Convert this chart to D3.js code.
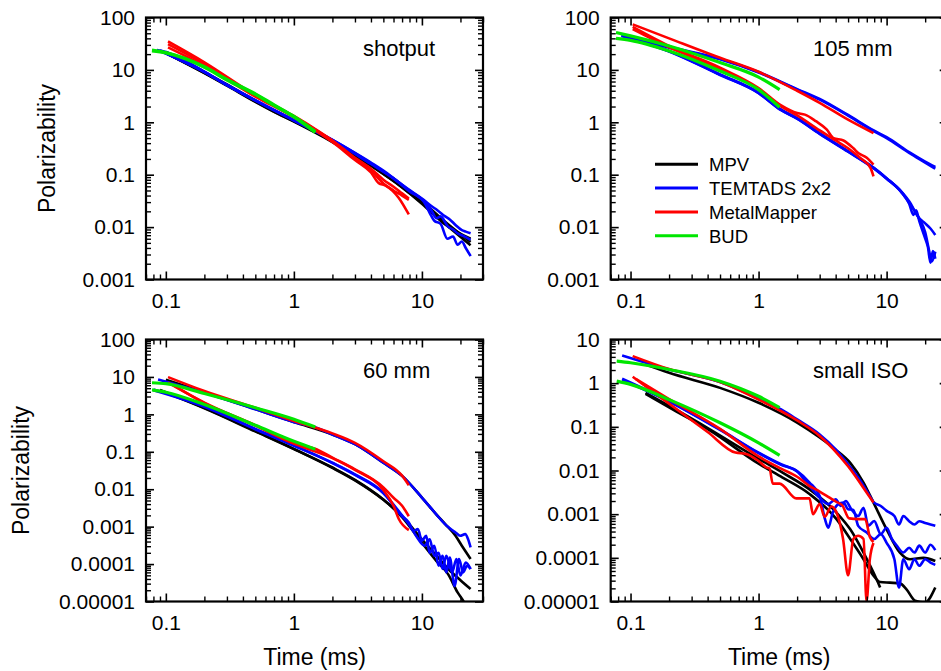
<!DOCTYPE html>
<html>
<head>
<meta charset="utf-8">
<script src="https://cdnjs.cloudflare.com/ajax/libs/d3/7.8.5/d3.min.js"></script>
<style>
  body { margin: 0; background: #fff; }
  svg { display: block; font-family: "Liberation Sans", Arial, sans-serif; }
</style>
</head>
<body>
<svg width="941" height="671"></svg>
<script>
// ---- data: each curve is a list of [time (ms), polarizability] ----

// shotput
var shotputMPV = [
  [[0.1,21],[0.2,8.8],[0.3,5.1],[0.5,2.5],[0.7,1.6],[1,1.05],[2,0.43],[4,0.15],[7,0.058],[10,0.029],[15,0.0118],[24,0.0045]],
  [[0.1,22],[0.2,9.1],[0.3,5.3],[0.5,2.6],[0.7,1.65],[1,1.09],[2,0.45],[4,0.155],[7,0.062],[10,0.031],[15,0.013],[24,0.0052]],
  [[0.1,21],[0.2,8.7],[0.3,5.0],[0.5,2.45],[0.7,1.58],[1,1.03],[2,0.42],[4,0.148],[7,0.057],[10,0.028],[15,0.0115],[24,0.006]]
];
var shotputTEMTADS = [
  [[0.085,24],[0.1,22],[0.2,9.3],[0.3,5.2],[0.5,2.65],[1,1.1],[2,0.46],[3,0.26],[4,0.17],[5,0.12],[6.6,0.072],[8.4,0.047],[10,0.035],[12,0.0247],[13.2,0.021],[15.2,0.016],[16.5,0.014],[18.3,0.011],[20.5,0.0088],[22,0.0082],[24,0.0076]],
  [[0.09,23],[0.2,9.1],[0.3,5.1],[0.5,2.6],[1,1.08],[2,0.45],[4,0.16],[6,0.085],[8,0.05],[10,0.034],[11,0.028],[12,0.0198],[13,0.0148],[14,0.016],[16,0.0102],[17.5,0.009],[19,0.0076],[21,0.0068],[24,0.0057]],
  [[0.09,23.5],[0.2,9.2],[0.3,5.15],[0.5,2.62],[1,1.09],[2,0.46],[4,0.165],[6,0.085],[8,0.048],[10.4,0.03],[11.8,0.0165],[12.5,0.0132],[14,0.0115],[15.8,0.006],[17.5,0.0066],[19,0.0046],[20.5,0.0053],[22,0.004],[24,0.0028]]
];
var shotputMM = [
  [[0.104,35],[0.2,14],[0.5,3.3],[1,1.32],[1.5,0.72],[2,0.45],[3,0.21],[4,0.13],[5,0.08],[6,0.059],[7,0.044],[7.9,0.035]],
  [[0.104,31],[0.2,13],[0.5,3.2],[1,1.28],[1.5,0.7],[2,0.44],[3,0.2],[4,0.12],[5,0.068],[6,0.05],[7,0.04],[7.9,0.033]],
  [[0.104,27],[0.2,12],[0.5,3.1],[1,1.25],[1.5,0.68],[2,0.42],[3,0.19],[4,0.11],[4.6,0.069],[5.2,0.062],[6.6,0.036],[7.9,0.0174]]
];
var shotputBUD = [
  [[0.078,24],[0.1,21.5],[0.2,11.5],[0.3,6.6],[0.5,3.5],[0.7,2.15],[1,1.3],[1.47,0.67]],
  [[0.078,23],[0.1,21],[0.2,11.2],[0.3,6.4],[0.5,3.4],[0.7,2.1],[1,1.27],[1.47,0.64]]
];

// 105 mm (no MPV data)
var mm105MPV = [];
var mm105TEMTADS = [
  [[0.085,45],[0.1,41],[0.2,26.6],[0.5,15.9],[1,8.9],[2,4.2],[3,2.7],[5,1.34],[8,0.67],[10,0.5],[15,0.26],[20,0.17],[24,0.13]],
  [[0.085,48],[0.1,43],[0.2,27.5],[0.5,16.3],[1,9.1],[2,4.3],[3,2.8],[5,1.38],[8,0.69],[10,0.52],[15,0.27],[20,0.178],[24,0.14]],
  [[0.085,44.6],[0.2,23],[0.5,8.2],[1,3.7],[1.5,1.75],[2,1.2],[3,0.62],[5,0.28],[8,0.134],[10,0.086],[13,0.048],[15,0.031],[18,0.0147],[20,0.0118],[22,0.0094],[24,0.0071]],
  [[0.09,42],[0.2,22.5],[0.5,8],[1,3.6],[1.5,1.7],[2,1.17],[3,0.6],[5,0.275],[8,0.13],[10,0.084],[13,0.047],[15,0.028],[16.2,0.017],[17,0.021],[18,0.013],[20,0.0061],[21,0.0042],[22,0.0021],[23,0.0035],[24,0.0025]],
  [[0.09,43],[0.2,22.8],[0.5,8.1],[1,3.65],[1.5,1.72],[2,1.18],[3,0.61],[5,0.277],[8,0.132],[10,0.085],[13,0.047],[15,0.029],[18,0.0145],[20,0.008],[21.5,0.0035],[22.5,0.0022],[24,0.0034]]
];
var mm105MM = [
  [[0.104,74],[0.2,40],[0.5,17],[1,9.2],[2,4],[3,2.35],[5,1.12],[7.9,0.62]],
  [[0.104,66],[0.2,28.6],[0.5,11],[1,4.5],[1.5,2.1],[2,1.5],[2.3,1.4],[2.8,1.05],[3.4,0.73],[3.85,0.5],[4.6,0.45],[5.5,0.32],[6,0.26],[7,0.21],[7.9,0.155]],
  [[0.104,60],[0.2,27],[0.5,10.5],[1,4.3],[1.5,2.0],[2,1.35],[3,0.7],[4,0.45],[5,0.32],[6.2,0.21],[7.5,0.134],[7.9,0.093]]
];
var mm105BUD = [
  [[0.077,51.6],[0.1,44.6],[0.2,28.6],[0.5,13.8],[1,7.3],[1.46,4.2]],
  [[0.077,40],[0.1,36.7],[0.2,23],[0.5,9.5],[1,4.2],[1.46,1.94]]
];

// 60 mm
var mm60MPV = [
  [[0.1,8.4],[0.2,3.9],[0.5,1.38],[1,0.62],[2,0.29],[3,0.16],[5,0.051],[7,0.0227],[10,0.006],[13,0.0021],[15.2,0.00117],[18.3,0.00057],[20.5,0.00031],[24,0.000136]],
  [[0.09,4.5],[0.2,1.5],[0.5,0.36],[1,0.12],[2,0.038],[3,0.0178],[5,0.0053],[7,0.0018],[10,0.00037],[13,0.00012],[16,0.000054],[19,0.0000175],[21,0.0000105],[23,0.000006]],
  [[0.09,4.3],[0.2,1.45],[0.5,0.35],[1,0.118],[2,0.037],[3,0.0172],[5,0.0052],[7,0.0019],[10,0.00046],[13,0.000167],[16,0.000075],[20,0.000037],[24,0.0000215]]
];
var mm60TEMTADS = [
  [[0.087,8.6],[0.2,3.8],[0.5,1.36],[1,0.62],[1.5,0.44],[2,0.29],[3,0.16],[5,0.051],[7,0.0227],[10,0.006],[13,0.0021],[15,0.0012],[16.5,0.0009],[18.3,0.0007],[19.9,0.00057],[21.8,0.00063],[23,0.00045],[24,0.00028]],
  [[0.08,4.6],[0.2,1.67],[0.5,0.41],[1,0.15],[2,0.051],[3,0.025],[5,0.0081],[7,0.0019],[7.9,0.0013],[8.6,0.00077],[9.3,0.00086],[10,0.00042],[10.8,0.00057],[11.5,0.0002],[12.5,0.00031],[13.5,0.00009],[14.5,0.000167],[15.5,0.00006],[16.5,0.00015],[18,0.000026],[19.5,0.000136],[21,0.00006],[22.5,0.00009],[24,0.000074]],
  [[0.08,4.4],[0.2,1.6],[0.5,0.4],[1,0.145],[2,0.05],[3,0.024],[5,0.0078],[7,0.002],[8,0.0011],[9,0.00057],[10.5,0.00031],[11.5,0.00046],[12.5,0.000167],[13.5,0.0002],[14.5,0.000074],[15.5,0.000167],[17.2,0.00006],[18.6,0.000136],[20,0.00005],[22,0.00011],[24,0.000074]]
];
var mm60MM = [
  [[0.104,9.9],[0.2,4.2],[0.5,1.5],[1,0.66],[2,0.31],[3,0.174],[5,0.056],[7,0.023],[7.9,0.0128]],
  [[0.104,7.0],[0.2,2.05],[0.5,0.51],[1,0.17],[1.5,0.117],[2,0.07],[3,0.034],[5,0.0112],[6,0.0059],[7,0.0036],[7.9,0.0019]],
  [[0.11,6.5],[0.2,2.0],[0.5,0.5],[1,0.165],[2,0.068],[3,0.033],[5,0.0095],[6,0.0036],[6.6,0.0016],[7.9,0.00081]]
];
var mm60BUD = [
  [[0.078,7.0],[0.1,6.6],[0.2,3.6],[0.5,1.5],[1,0.74],[1.47,0.46]],
  [[0.078,4.5],[0.1,3.9],[0.2,1.83],[0.5,0.51],[1,0.19],[1.47,0.117]]
];

// small ISO
var isoMPV = [
  [[0.13,2.7],[0.2,1.73],[0.5,0.78],[1,0.355],[2,0.125],[3,0.057],[4,0.03],[5.2,0.015],[6.6,0.0053],[7.9,0.00184],[10,0.00045],[12.7,0.000132],[15.2,0.000093],[19.4,0.0001],[24,0.000085]],
  [[0.131,0.6],[0.225,0.25],[0.41,0.09],[1.015,0.018],[1.54,0.0089],[2.5,0.0037],[4.06,0.00109],[5.2,0.00045],[6.6,0.000132],[7.9,0.000046],[8.9,0.000021]],
  [[0.131,0.57],[0.225,0.23],[0.41,0.085],[1.015,0.0139],[1.54,0.0069],[2.5,0.0029],[4.06,0.00077],[5.2,0.00027],[6.6,0.000093],[7.9,0.000039],[8.9,0.000028],[10.6,0.000027],[12.7,0.000026],[14.3,0.000019],[16.7,0.0000104],[19.9,0.0000095],[24,0.000021]]
];
var isoTEMTADS = [
  [[0.086,4.3],[0.2,2.06],[0.5,1.06],[1,0.44],[1.5,0.25],[2,0.148],[3,0.067],[4,0.0305],[5,0.0139],[6,0.0069],[7,0.0034],[8,0.00184],[9,0.00154],[10,0.00119],[11.5,0.00091],[12.5,0.00058],[13.5,0.00091],[15,0.00069],[16.5,0.00058],[18,0.00069],[20,0.00063],[22,0.00058],[24,0.00054]],
  [[0.086,1.26],[0.2,0.39],[0.5,0.087],[1,0.0256],[1.5,0.0139],[2,0.0097],[2.5,0.0053],[3,0.0026],[3.3,0.00077],[3.5,0.00049],[3.8,0.00109],[4.2,0.0017],[4.6,0.00184],[5,0.0013],[5.5,0.00125],[6,0.00054],[7,0.00038],[8,0.00027],[9,0.00035],[10,0.00022],[11.5,0.000093],[12.5,0.000021],[13.5,0.000093],[15,0.000055],[16.5,0.000093],[18,0.000066],[20,0.000093],[22,0.000078],[24,0.000069]],
  [[0.086,1.2],[0.2,0.38],[0.5,0.085],[1,0.025],[1.5,0.0135],[2,0.0095],[2.5,0.0044],[3,0.0024],[3.5,0.0017],[4,0.0022],[4.4,0.00155],[4.8,0.002],[5.3,0.0013],[6,0.00091],[6.6,0.0014],[7.2,0.00054],[8,0.0007],[9,0.00035],[10,0.00049],[11,0.00027],[12,0.00019],[13.5,0.000132],[15,0.00017],[16.5,0.000132],[18,0.00019],[20,0.000132],[22,0.0002],[24,0.00015]]
];
var isoMM = [
  [[0.104,4.17],[0.2,2.1],[0.5,1.06],[1,0.42],[2,0.14],[3,0.062],[5,0.0125],[7,0.0031],[7.9,0.00184]],
  [[0.104,1.4],[0.2,0.34],[0.4,0.076],[0.66,0.0257],[0.8,0.024],[1,0.0165],[1.15,0.0118],[1.22,0.011],[1.29,0.005],[1.46,0.005],[1.97,0.0023],[2.5,0.0023],[2.66,0.001],[3.0,0.0017],[3.28,0.00087],[3.7,0.0015],[4.06,0.0011],[4.57,0.00027],[5.0,0.00004],[5.5,0.00027],[6.0,0.00032],[6.6,0.00027],[6.97,0.0000102],[7.4,0.000093],[7.9,0.00022]],
  [[0.11,1.25],[0.2,0.43],[0.5,0.09],[1,0.021],[1.5,0.011],[2,0.0072],[2.5,0.0044],[3,0.0033],[3.5,0.0025],[4.06,0.0019],[4.5,0.0016],[5.1,0.0008],[6,0.00077],[6.8,0.00077],[7.4,0.0003],[7.9,0.00023]]
];
var isoBUD = [
  [[0.078,3.2],[0.1,2.93],[0.2,2.06],[0.5,1.11],[1,0.5],[1.46,0.274]],
  [[0.078,1.11],[0.1,0.94],[0.2,0.42],[0.5,0.124],[1,0.043],[1.46,0.0223]]
];

// axes / legend
var xDomain = [0.07, 30];
var xTickLabels = [0.1, 1, 10];
var yTicksTop = [0.001, 0.01, 0.1, 1, 10, 100];
var yTicks60 = [0.00001, 0.0001, 0.001, 0.01, 0.1, 1, 10, 100];
var yTicksIso = [0.00001, 0.0001, 0.001, 0.01, 0.1, 1, 10];
var instruments = ["MPV", "TEMTADS 2x2", "MetalMapper", "BUD"];
var colors = ["#000000", "#0000ff", "#ff0000", "#00e600"];

var panels = [
  { label: "shotput", sets: [shotputMPV, shotputTEMTADS, shotputMM, shotputBUD], yt: yTicksTop,
    left: 146, top: 17.5, lx: 363, ly: 56, yTitle: 55, xTitle: false, legend: false },
  { label: "105 mm", sets: [mm105MPV, mm105TEMTADS, mm105MM, mm105BUD], yt: yTicksTop,
    left: 610.7, top: 17.5, lx: 813, ly: 56, yTitle: null, xTitle: false, legend: true },
  { label: "60 mm", sets: [mm60MPV, mm60TEMTADS, mm60MM, mm60BUD], yt: yTicks60,
    left: 146, top: 339.5, lx: 363, ly: 378, yTitle: 28.5, xTitle: true, legend: false },
  { label: "small ISO", sets: [isoMPV, isoTEMTADS, isoMM, isoBUD], yt: yTicksIso,
    left: 610.7, top: 339.5, lx: 813, ly: 377.5, yTitle: null, xTitle: true, legend: false }
];

var W = 337, H = 262;
var svg = d3.select("svg");

function fmt(v) {
  var k = Math.round(Math.log10(v));
  return k >= 0 ? String(Math.pow(10, k)) : "0." + "0".repeat(-k - 1) + "1";
}
function isMajor(v) {
  var l = Math.log10(v);
  return Math.abs(l - Math.round(l)) < 1e-6;
}

panels.forEach(function (p, i) {
  var x = d3.scaleLog().domain(xDomain).range([0, W]);
  var y = d3.scaleLog().domain([p.yt[0], p.yt[p.yt.length - 1]]).range([H, 0]);
  var g = svg.append("g").attr("transform", "translate(" + p.left + "," + p.top + ")");

  var xMinor = x.ticks().filter(function (d) { return !isMajor(d); });
  var yMinor = y.ticks().filter(function (d) { return !isMajor(d); });

  g.append("clipPath").attr("id", "clip" + i)
    .append("rect").attr("width", W).attr("height", H);

  // curves
  var line = d3.line().curve(d3.curveMonotoneX)
    .x(function (d) { return x(d[0]); }).y(function (d) { return y(d[1]); });
  var plot = g.append("g").attr("clip-path", "url(#clip" + i + ")");
  p.sets.forEach(function (curves, s) {
    plot.selectAll(null).data(curves).enter().append("path")
      .attr("d", line)
      .attr("fill", "none")
      .attr("stroke", colors[s])
      .attr("stroke-width", s == 3 ? 3.2 : 2.6)
      .attr("stroke-linejoin", "round");
  });

  // axes: ticks point inward on all four sides
  function addAxis(axis, tr, major, minor, pad) {
    var a = g.append("g").attr("transform", tr)
      .call(axis.tickValues(major).tickSizeInner(-8).tickSizeOuter(0).tickPadding(pad)
        .tickFormat(pad ? fmt : ""));
    a.select(".domain").remove();
    a.selectAll("line").attr("stroke-width", 1.6);
    a.selectAll("text").attr("font-size", 21).attr("fill", "#000");
    var b = g.append("g").attr("transform", tr)
      .call(axis.tickValues(minor).tickSizeInner(-5).tickFormat(""));
    b.select(".domain").remove();
    b.selectAll("line").attr("stroke-width", 1.4);
  }
  addAxis(d3.axisBottom(x), "translate(0," + H + ")", xTickLabels, xMinor, 14);
  addAxis(d3.axisTop(x), "translate(0,0)", xTickLabels, xMinor, 0);
  addAxis(d3.axisLeft(y), "translate(0,0)", p.yt, yMinor, 11);
  addAxis(d3.axisRight(y), "translate(" + W + ",0)", p.yt, yMinor, 0);

  g.append("rect").attr("width", W).attr("height", H)
    .attr("fill", "none").attr("stroke", "#000").attr("stroke-width", 2.2);

  svg.append("text").attr("x", p.lx).attr("y", p.ly)
    .attr("font-size", 22).text(p.label);

  if (p.yTitle !== null) {
    svg.append("text")
      .attr("transform", "translate(" + p.yTitle + "," + (p.top + H / 2) + ") rotate(-90)")
      .attr("text-anchor", "middle").attr("font-size", 23).text("Polarizability");
  }
  if (p.xTitle) {
    svg.append("text").attr("x", p.left + W / 2).attr("y", 665)
      .attr("text-anchor", "middle").attr("font-size", 23).text("Time (ms)");
  }

  if (p.legend) {
    var lg = svg.append("g").selectAll("g").data(instruments).enter().append("g")
      .attr("transform", function (d, k) { return "translate(655," + (164.3 + k * 23.8) + ")"; });
    lg.append("line").attr("x1", 0).attr("x2", 43)
      .attr("stroke", function (d, k) { return colors[k]; }).attr("stroke-width", 3);
    lg.append("text").attr("x", 54).attr("y", 6.8).attr("font-size", 18.5)
      .text(function (d) { return d; });
  }
});
</script>
</body>
</html>
